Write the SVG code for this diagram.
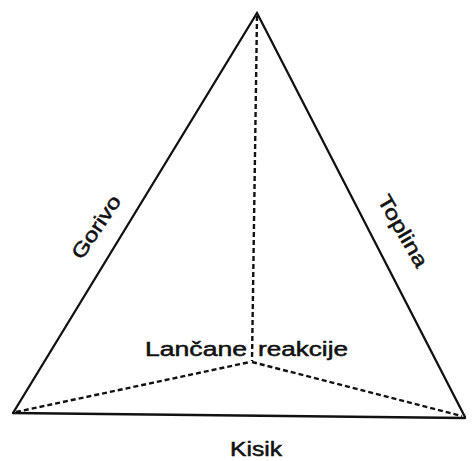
<svg xmlns="http://www.w3.org/2000/svg" width="472" height="461" viewBox="0 0 472 461">
<style>
.solid{stroke:#111;stroke-width:2.3;fill:none;stroke-linecap:round}
.dash{stroke:#111;stroke-width:2.4;fill:none;stroke-dasharray:5 3}
.lbl{font-family:"Liberation Sans",Arial,sans-serif;font-size:20px;fill:#111;stroke:#111;stroke-width:0.5}
</style>
<rect width="472" height="461" fill="#fff"/>
<g id="connectors">
<path class="solid" d="M13,413 L257,13 L465,417"/>
<path class="solid" d="M13,413 L465,418" stroke-width="2.8"/>
<path class="dash" d="M257,16 L252,361"/>
<path class="dash" d="M16,412 L250,362"/>
<path class="dash" d="M252,362 L462,416"/>
</g>
<g id="gorivo"><text class="lbl" transform="translate(96,227) rotate(-56)" text-anchor="middle" dominant-baseline="central" textLength="72" lengthAdjust="spacingAndGlyphs">Gorivo</text></g>
<g id="toplina"><text class="lbl" transform="translate(403,231) rotate(60)" text-anchor="middle" dominant-baseline="central" textLength="80" lengthAdjust="spacingAndGlyphs">Toplina</text></g>
<g id="lancane"><text class="lbl" x="145" y="356" textLength="102" lengthAdjust="spacingAndGlyphs">Lančane</text></g>
<g id="reakcije"><text class="lbl" x="258" y="356" textLength="90" lengthAdjust="spacingAndGlyphs">reakcije</text></g>
<g id="kisik"><text class="lbl" x="230" y="456" textLength="52" lengthAdjust="spacingAndGlyphs">Kisik</text></g>
</svg>
